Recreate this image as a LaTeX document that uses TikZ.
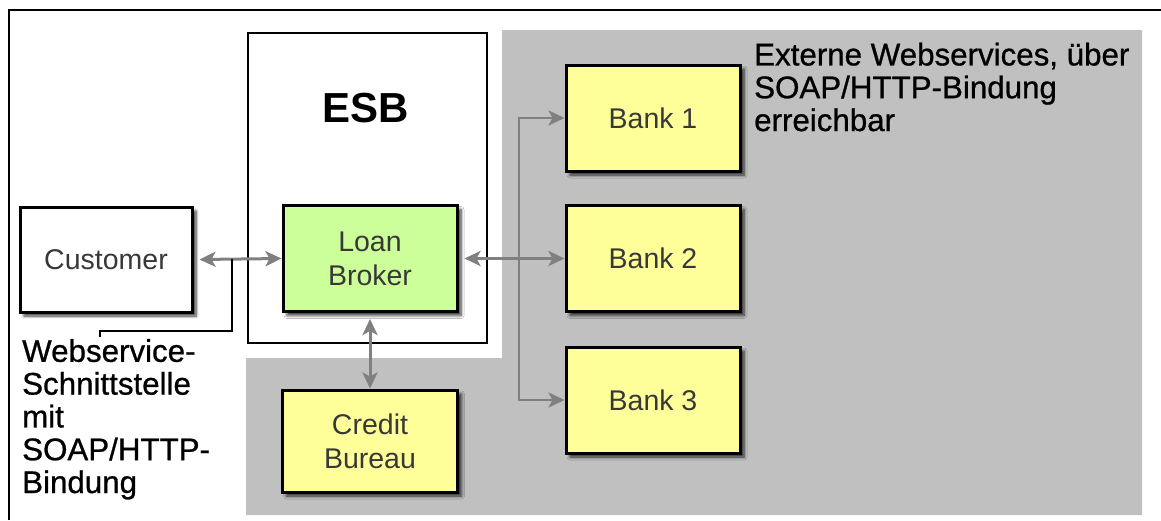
\documentclass[tikz,border=0pt]{standalone}
\usepackage{fontspec}
\setmainfont{Liberation Sans}
\newfontfamily\sidefont{Liberation Sans}[FakeBold=0.8]
\usetikzlibrary{arrows.meta,shadows.blur}
\definecolor{greybg}{HTML}{C0C0C0}
\definecolor{boxyellow}{HTML}{FFFF99}
\definecolor{boxgreen}{HTML}{CCFF99}
\definecolor{conngrey}{HTML}{808080}
\definecolor{labelgrey}{HTML}{383838}
\begin{document}
\begin{tikzpicture}[x=1pt,y=-1pt,
  box/.style={draw=black, line width=3pt, minimum width=174pt, minimum height=106pt,
    inner sep=0pt, align=center, text=labelgrey, font=\fontsize{28.5}{34}\selectfont,
    blur shadow={shadow xshift=4pt, shadow yshift=-4pt, shadow blur steps=6,
      shadow opacity=80, shadow blur radius=3pt}},
  tip/.tip={Stealth[length=16pt,width=15pt,inset=4pt]},
  conn/.style={draw=conngrey, line width=3pt, tip-tip},
  busline/.style={draw=conngrey, line width=2.4pt, tip-tip, line join=miter},
  callout/.style={draw=black, line width=1.2pt},
  sidetext/.style={anchor=base west, align=left, inner sep=0pt, font=\sidefont\fontsize{31.3}{32.8}\selectfont}
]
\useasboundingbox (0,0) rectangle (1161,520);
% outer frame (top and left edge)
\draw[line width=2pt] (9,520) -- (9,10) -- (1161,10);
% grey background
\fill[greybg] (502,30) -- (1142,30) -- (1142,515) -- (246,515) -- (246,358) -- (502,358) -- cycle;
% ESB container
\node[draw=black, line width=1.5pt, fill=white, minimum width=239pt, minimum height=310pt, inner sep=0pt] (esb) at (367.5,188) {};
\node[anchor=base, inner sep=0pt, font=\bfseries\fontsize{42}{42}\selectfont] (esblabel) at (366,122) {ESB};
% boxes
\node[box, fill=white, minimum width=172pt, minimum height=105pt] (cust) at (106,259.5) {Customer};
\node[box, fill=boxgreen] (lb) at (370,258.5) {Loan\\Broker};
\node[box, fill=boxyellow] (b1) at (653,118) {Bank 1};
\node[box, fill=boxyellow] (b2) at (653,258.5) {Bank 2};
\node[box, fill=boxyellow] (b3) at (653,400) {Bank 3};
\node[box, fill=boxyellow, minimum width=175pt, minimum height=102pt] (cb) at (370,441) {Credit\\Bureau};
% connectors
\draw[conn] ([xshift=6pt]cust.east) -- (lb.west);
\draw[conn] ([xshift=6pt]lb.east) -- (b2.west);
\draw[conn] ([yshift=-6pt]lb.south) -- (cb.north);
\coordinate (busx) at (519,0);
\draw[busline] (b1.west) -- (busx |- b1.west) -- (busx |- b3.west) -- (b3.west);
% callout
\coordinate (co1) at (232,259);
\coordinate (cobend) at (100,331);
\coordinate (co2) at (100,337);
\draw[callout] (co1) |- (cobend) -- (co2);
% texts (anchored at the baseline of their last line)
\node[sidetext] (ext) at (754,131) {Externe Webservices, über\\SOAP/HTTP-Bindung\\erreichbar};
\node[sidetext] (ws) at (22,493) {Webservice-\\Schnittstelle\\mit\\SOAP/HTTP-\\Bindung};
\end{tikzpicture}
\end{document}
